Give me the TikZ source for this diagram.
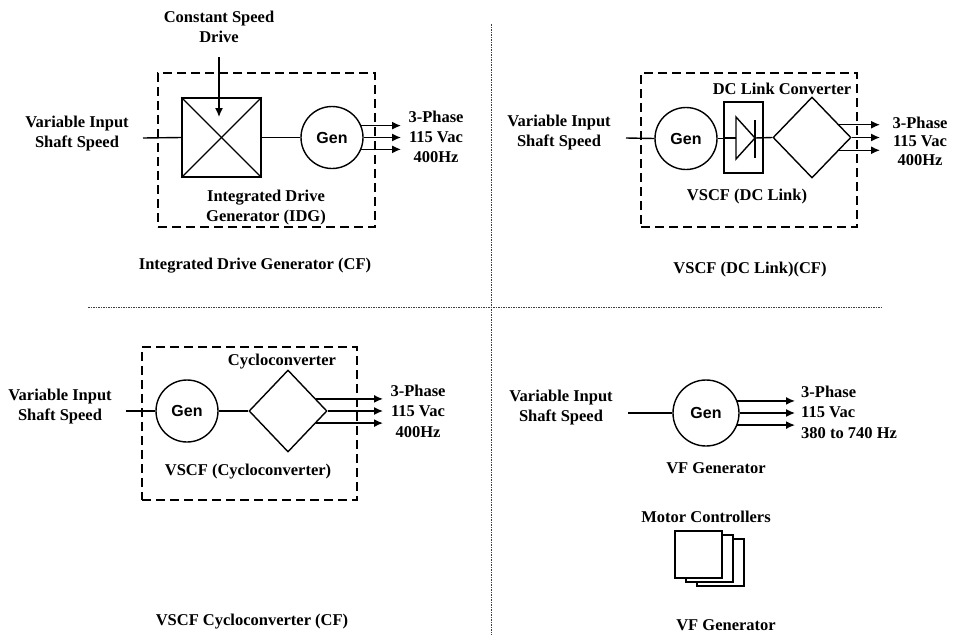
\documentclass[tikz,border=0pt]{standalone}
\usepackage{fontspec}
\setmainfont{Liberation Serif}
\newfontfamily\gensans{Liberation Sans}
\usetikzlibrary{shapes.geometric,arrows.meta,calc}
\begin{document}
\begin{tikzpicture}[x=1pt,y=-1pt,
  txt/.style={font=\fontsize{16.5}{20}\selectfont\bfseries, align=center, inner sep=0pt},
  gen/.style={circle, draw, line width=1.4pt, minimum size=62pt, inner sep=0pt,
              font=\gensans\fontsize{16}{19}\selectfont\bfseries},
  wire/.style={line width=1.4pt},
  arr/.style={line width=1.4pt, -{Latex[length=9pt,width=8pt]}},
  dbox/.style={draw, line width=1.5pt, dash pattern=on 9pt off 5pt, rectangle, inner sep=0pt},
  sepline/.style={line width=0.8pt, dash pattern=on 1.5pt off 1pt, black!75},
  conv/.style={diamond, draw, line width=1.4pt, inner sep=0pt},
  blk/.style={rectangle, draw, line width=1.4pt, inner sep=0pt, fill=white}
]
\useasboundingbox (0,0) rectangle (953,635);

% dividers
\coordinate (vtop) at (491,24);
\coordinate (vbot) at (491,635);
\coordinate (hl) at (88,307);
\coordinate (hr) at (882,307);
\draw[sepline] (vtop) -- (vbot);
\draw[sepline] (hl) -- (hr);

% ---------------- top left: IDG ----------------
\node[dbox, minimum width=217pt, minimum height=154pt] (box1) at (266.5,150) {};
\node[txt] (csd) at (219,27) {Constant Speed\\Drive};
\node[blk, minimum size=79pt] (cs) at (221.5,137.5) {};
\draw[wire] (cs.north west) -- (cs.south east);
\draw[wire] (cs.north east) -- (cs.south west);
\coordinate (csdtop) at (219,57);
\coordinate (csdtip) at (219,117);
\draw[arr] (csdtop) -- (csdtip);
\node[txt] (vi1) at (77,134) {Variable Input\\Shaft Speed};
\coordinate (in1) at (143,138);
\draw[wire] (in1) -- (cs.west);
\node[gen] (g1) at (332,137.5) {Gen};
\draw[wire] (cs.east) -- (g1.west);
\coordinate (o1) at (401,137.5);
\draw[arr] (g1.22) -- (g1.22 -| o1);
\draw[arr] (g1.east) -- (o1);
\draw[arr] (g1.-22) -- (g1.-22 -| o1);
\node[txt] (ph1) at (436,137) {3-Phase\\115 Vac\\400Hz};
\node[txt] (idg) at (266,208) {Integrated Drive\\Generator (IDG)};
\node[txt] (cap1) at (255,266) {Integrated Drive Generator (CF)};

% ---------------- top right: VSCF DC link ----------------
\node[dbox, minimum width=216pt, minimum height=154pt] (box2) at (749,150) {};
\node[txt] (dcl) at (782,89) {DC Link Converter};
\node[txt] (vi2) at (559,133) {Variable Input\\Shaft Speed};
\coordinate (in2) at (626,138);
\node[gen] (g2) at (686,138.5) {Gen};
\draw[wire] (in2) -- (g2.west);
\node[blk, minimum width=39pt, minimum height=71pt] (dc) at (743.5,137.5) {};
\draw[wire] (g2.east) -- (g2.east -| dc.west);
\coordinate (trl) at (736,138);
\coordinate (trt) at (736,117);
\coordinate (trb) at (736,159);
\coordinate (tra) at (755,138);
\draw[wire] (dc.west |- trl) -- (trl);
\draw[wire, line join=miter] (trt) -- (trb) -- (tra) -- cycle;
\draw[wire] (755,120) -- (755,158);
\node[conv, minimum width=78pt, minimum height=81pt] (d2) at (812,137.5) {};
\draw[wire] (tra) -- (d2.west);
\coordinate (o2) at (880,137.5);
\coordinate (d2u) at ($(d2.east)!0.31!(d2.north)$);
\coordinate (d2l) at ($(d2.east)!0.31!(d2.south)$);
\draw[arr] (d2u) -- (d2u -| o2);
\draw[arr] (d2.east) -- (o2);
\draw[arr] (d2l) -- (d2l -| o2);
\node[txt, font=\fontsize{16.5}{18.5}\selectfont\bfseries] (ph2) at (920,141) {3-Phase\\115 Vac\\400Hz};
\node[txt] (vscf) at (747,197) {VSCF (DC Link)};
\node[txt] (cap2) at (750,270) {VSCF (DC Link)(CF)};

% ---------------- bottom left: cycloconverter ----------------
\node[dbox, minimum width=215pt, minimum height=153pt] (box3) at (249.5,423.5) {};
\node[txt] (cyc) at (282,362) {Cycloconverter};
\node[txt] (vi3) at (60,407) {Variable Input\\Shaft Speed};
\coordinate (in3) at (126,411);
\node[gen] (g3) at (187,411) {Gen};
\draw[wire] (in3) -- (g3.west);
\node[conv, minimum width=78pt, minimum height=82pt] (d3) at (288,411) {};
\draw[wire] (g3.east) -- (d3.west);
\coordinate (o3) at (383,411);
\coordinate (d3u) at ($(d3.east)!0.29!(d3.north)$);
\coordinate (d3l) at ($(d3.east)!0.29!(d3.south)$);
\draw[arr] (d3u) -- (d3u -| o3);
\draw[arr] (d3.east) -- (o3);
\draw[arr] (d3l) -- (d3l -| o3);
\node[txt, font=\fontsize{16.5}{20.5}\selectfont\bfseries] (ph3) at (418,411) {3-Phase\\115 Vac\\400Hz};
\node[txt] (vscfc) at (248,472) {VSCF (Cycloconverter)};
\node[txt] (cap3) at (252,622) {VSCF Cycloconverter (CF)};

% ---------------- bottom right: VF generator ----------------
\node[txt] (vi4) at (561,408) {Variable Input\\Shaft Speed};
\coordinate (in4) at (628,413);
\node[gen, minimum size=66pt] (g4) at (706,413) {Gen};
\draw[wire] (in4) -- (g4.west);
\coordinate (o4) at (795,413);
\draw[arr] (g4.21) -- (g4.21 -| o4);
\draw[arr] (g4.east) -- (o4);
\draw[arr] (g4.-21) -- (g4.-21 -| o4);
\node[txt, align=left, anchor=west, font=\fontsize{16.5}{20.5}\selectfont\bfseries] (ph4) at (801,412) {3-Phase\\115 Vac\\380 to 740 Hz};
\node[txt] (vfg) at (716,468) {VF Generator};
\node[txt] (mc) at (706,517) {Motor Controllers};
\node[blk, minimum size=47pt] (mc3) at (720.5,562.5) {};
\node[blk, minimum size=47pt] (mc2) at (709.5,558.5) {};
\node[blk, minimum size=47pt] (mc1) at (698.5,554.5) {};
\node[txt] (cap4) at (726,625) {VF Generator};
\end{tikzpicture}
\end{document}
